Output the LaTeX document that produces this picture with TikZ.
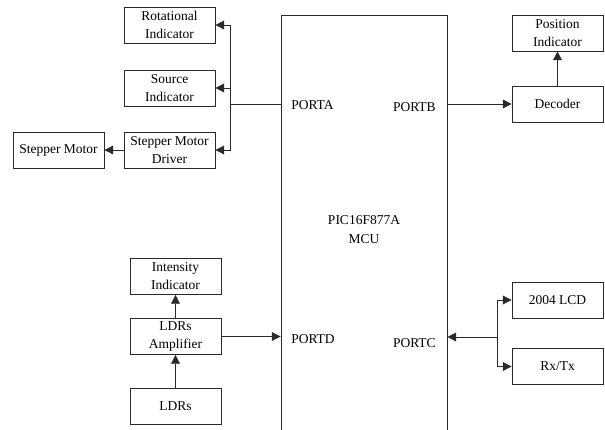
\documentclass[tikz,border=0pt]{standalone}
\usepackage{fontspec}
\setmainfont{Liberation Serif}
\usepackage{tikz}
\usetikzlibrary{arrows.meta,positioning,calc}
\definecolor{cline}{HTML}{2A2A2A}
\tikzset{
  blk/.style={draw=cline,line width=0.55pt,align=center,inner sep=1pt,
    minimum width=2.275cm,minimum height=0.9cm,font=\fontsize{9.6}{12.8}\selectfont},
  flow/.style={-{Triangle[length=2.2mm,width=2.2mm]},line width=0.55pt,draw=cline},
  wire/.style={line width=0.55pt,draw=cline},
  plbl/.style={font=\fontsize{9.6}{12.8}\selectfont,inner sep=0pt},
}

\begin{document}
\begin{tikzpicture}[x=0.025cm,y=-0.025cm,
  mcubox/.style={draw=cline,line width=0.55pt,minimum width=4.15cm,minimum height=10.75cm,
    align=center,font=\fontsize{9.6}{13.5}\selectfont},
]
\clip (0,0) rectangle (605,429);
\useasboundingbox (0,0) rectangle (605,429);

% ================= MCU =================
\node[mcubox] (mcu) at (364,230) {PIC16F877A\\MCU};
\node[plbl, anchor=west] (porta) at (291,105) {PORTA};
\node[plbl, anchor=east] (portb) at (436,107) {PORTB};
\node[plbl, anchor=west] (portd) at (291,339) {PORTD};
\node[plbl, anchor=east] (portc) at (436,343) {PORTC};

% ================= port A side =================
\node[blk] (rot) at (169.5,25) {Rotational\\Indicator};
\node[blk] (src) at (169.5,88) {Source\\Indicator};
\node[blk] (drv) at (169.5,150) {Stepper Motor\\Driver};
\node[blk] (motor) at (58.5,150) {Stepper Motor};
\coordinate (pa) at (mcu.west |- 0,104);
\coordinate (busA) at (230,104);
\draw[wire] (pa) -- (busA);
\draw[flow] (busA) |- (rot);
\draw[flow] (busA) |- (src);
\draw[flow] (busA) |- (drv);
\draw[flow] (drv) -- (motor);

% ================= port B side =================
\node[blk] (dec) at (557.5,104) {Decoder};
\node[blk] (pos) at (557.5,33) {Position\\Indicator};
\draw[flow] (dec -| mcu.east) -- (dec);
\draw[flow] (dec) -- (pos);

% ================= port D side =================
\node[blk] (inten) at (175.5,276.5) {Intensity\\Indicator};
\node[blk] (amp) at (175.5,336.5) {LDRs\\Amplifier};
\node[blk] (ldr) at (175.5,406) {LDRs};
\draw[flow] (ldr) -- (amp);
\draw[flow] (amp) -- (inten);
\draw[flow] (amp) -- (amp -| mcu.west);

% ================= port C side =================
\node[blk] (lcd) at (557.5,300) {2004 LCD};
\node[blk] (rxtx) at (557.5,366.5) {Rx/Tx};
\coordinate (busC) at (497,337);
\draw[flow] (busC) -- (busC -| mcu.east);
\draw[flow] (busC) |- (lcd);
\draw[flow] (busC) |- (rxtx);
\end{tikzpicture}
\end{document}
